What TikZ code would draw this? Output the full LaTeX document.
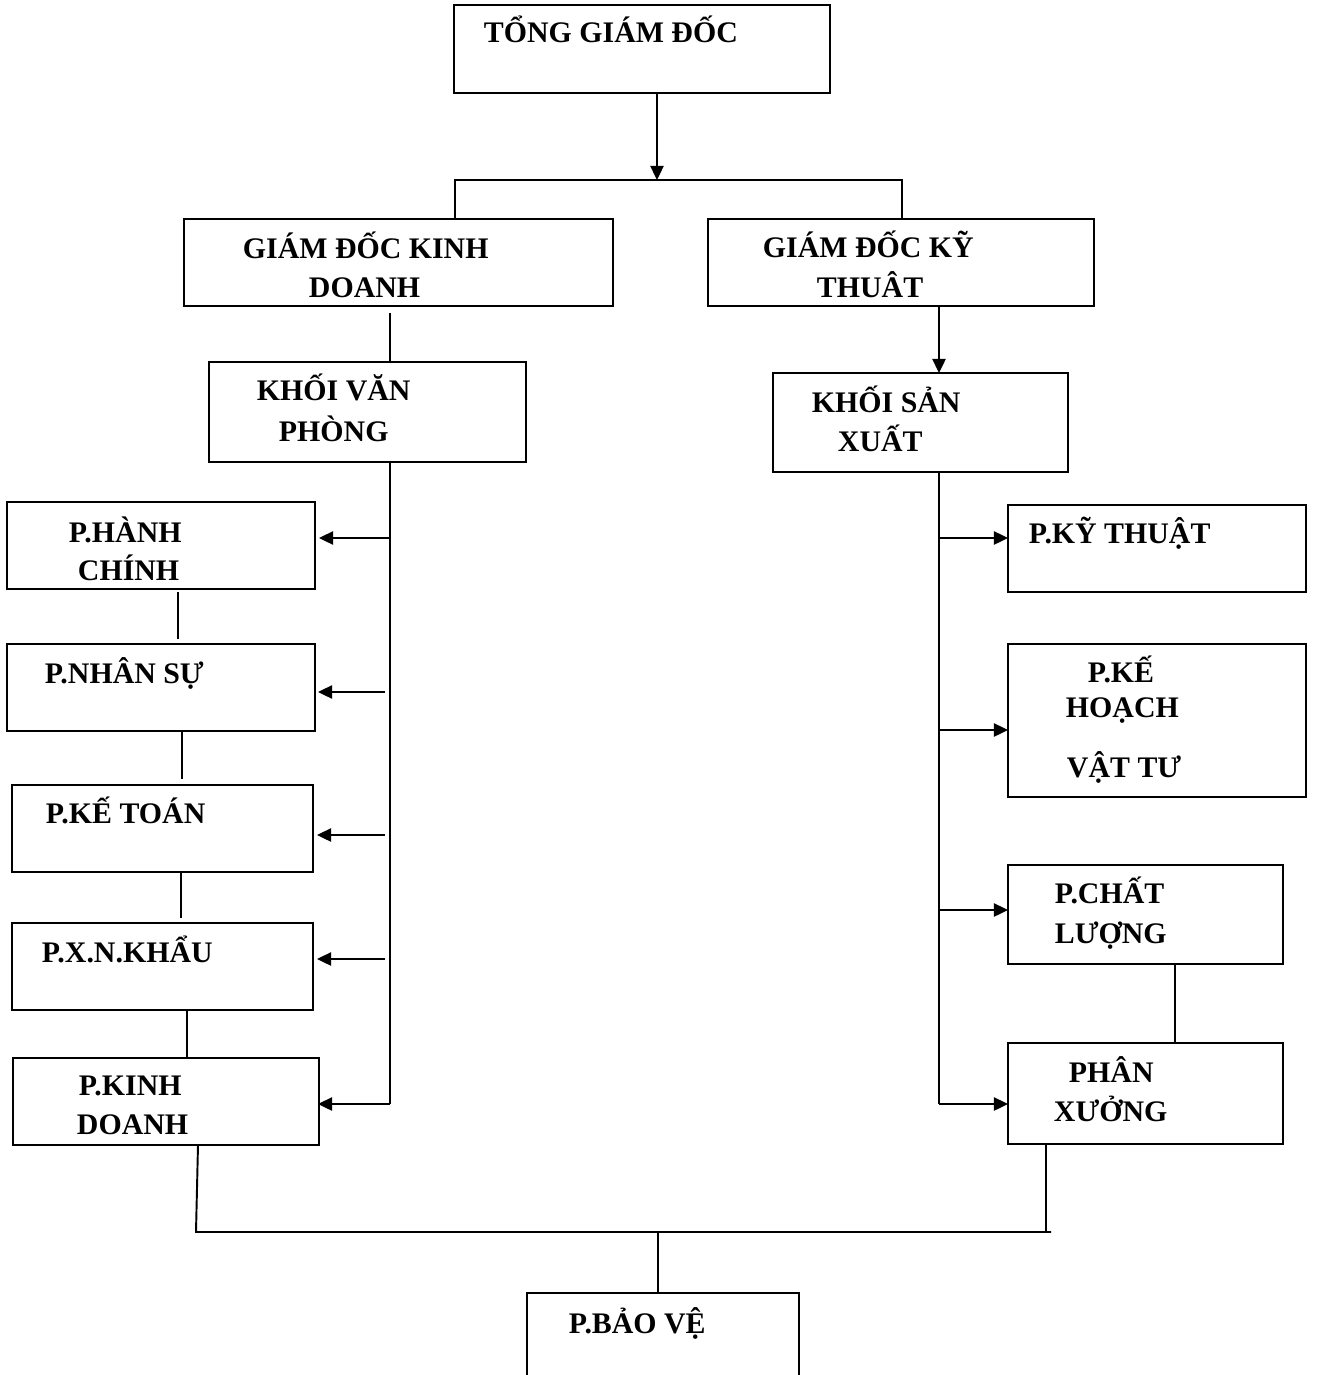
\documentclass[tikz,border=0pt]{standalone}
\usepackage{fontspec}
\setmainfont{Liberation Serif}
\usetikzlibrary{arrows.meta}
\begin{document}
\begin{tikzpicture}[x=0.02cm,y=-0.02cm,line width=1.1pt,
  box/.style 2 args={draw,rectangle,anchor=north west,minimum width=#1*0.02cm,minimum height=#2*0.02cm,inner sep=0pt,outer sep=0pt},
  lbl/.style={anchor=base west,inner sep=0pt,font=\fontsize{17}{20}\selectfont\bfseries},
  arr/.style={-{Triangle[length=8pt,width=7.5pt]}}]
\useasboundingbox (0,0) rectangle (1316,1375);
\clip (0,0) rectangle (1316,1375);
% boxes
\node[box={376}{88}] (tgd) at (454,5) {};
\node[box={429}{87}] (gdkd) at (184,219) {};
\node[box={386}{87}] (gdkt) at (708,219) {};
\node[box={317}{100}] (kvp) at (209,362) {};
\node[box={295}{99}] (ksx) at (773,373) {};
\node[box={308}{87}] (phc) at (7,502) {};
\node[box={308}{87}] (pns) at (7,644) {};
\node[box={301}{87}] (pkt) at (12,785) {};
\node[box={301}{87}] (pxnk) at (12,923) {};
\node[box={306}{87}] (pkd) at (13,1058) {};
\node[box={298}{87}] (pkyt) at (1008,505) {};
\node[box={298}{153}] (pkh) at (1008,644) {};
\node[box={275}{99}] (pcl) at (1008,865) {};
\node[box={275}{101}] (px) at (1008,1043) {};
\node[box={272}{130}] (pbv) at (527,1293) {};
% labels
\node[lbl] (t-tgd) at (483,43) {TỔNG GIÁM ĐỐC};
\node[lbl] (t-gdkd1) at (242,258) {GIÁM ĐỐC KINH};
\node[lbl] (t-gdkd2) at (308,297) {DOANH};
\node[lbl] (t-gdkt1) at (762,257) {GIÁM ĐỐC KỸ};
\node[lbl] (t-gdkt2) at (816,297) {THUÂT};
\node[lbl] (t-kvp1) at (256,400) {KHỐI VĂN};
\node[lbl] (t-kvp2) at (278,441) {PHÒNG};
\node[lbl] (t-ksx1) at (811,412) {KHỐI SẢN};
\node[lbl] (t-ksx2) at (837,451) {XUẤT};
\node[lbl] (t-phc1) at (68,542) {P.HÀNH};
\node[lbl] (t-phc2) at (77,580) {CHÍNH};
\node[lbl] (t-pns) at (44,683) {P.NHÂN SỰ};
\node[lbl] (t-pkt) at (45,823) {P.KẾ TOÁN};
\node[lbl] (t-pxnk) at (41,962) {P.X.N.KHẨU};
\node[lbl] (t-pkd1) at (78,1095) {P.KINH};
\node[lbl] (t-pkd2) at (76,1134) {DOANH};
\node[lbl] (t-pkyt) at (1028,543) {P.KỸ THUẬT};
\node[lbl] (t-pkh1) at (1087,682) {P.KẾ};
\node[lbl] (t-pkh2) at (1065,717) {HOẠCH};
\node[lbl] (t-pkh3) at (1066,777) {VẬT TƯ};
\node[lbl] (t-pcl1) at (1054,903) {P.CHẤT};
\node[lbl] (t-pcl2) at (1054,943) {LƯỢNG};
\node[lbl] (t-px1) at (1068,1082) {PHÂN};
\node[lbl] (t-px2) at (1053,1121) {XƯỞNG};
\node[lbl] (t-pbv) at (568,1333) {P.BẢO VỆ};
% helper coordinates
\coordinate (bus1) at (0,180);
\coordinate (bus2) at (0,1232);
\coordinate (xa) at (657,0);
\coordinate (xl) at (390,0);
\coordinate (xr) at (939,0);
\coordinate (vlend) at (390,1104);
\coordinate (vrend) at (939,1104);
\coordinate (gkdgap) at (390,313);
\coordinate (pkdbend) at (196,1232);
\coordinate (bus2end) at (1051,1232);
% top
\draw[arr] (tgd.south -| xa) -- (bus1 -| xa);
\draw (gdkd.north -| 455,0) -- (455,180) -- (902,180) -- (gdkt.north -| 902,0);
% left branch
\draw (gkdgap) -- (kvp.north -| xl);
\draw (kvp.south -| xl) -- (vlend);
\draw[arr] (390,538) -- ([xshift=4*0.02cm]phc.east |- 0,538);
\draw[arr] (385,692) -- ([xshift=3*0.02cm]pns.east |- 0,692);
\draw[arr] (385,835) -- ([xshift=4*0.02cm]pkt.east |- 0,835);
\draw[arr] (385,959) -- ([xshift=4*0.02cm]pxnk.east |- 0,959);
\draw[arr] (vlend) -- ([xshift=-1*0.02cm]pkd.east |- vlend);
\draw ([yshift=-3*0.02cm]phc.south -| 178,0) -- ([yshift=5*0.02cm]pns.north -| 178,0);
\draw (pns.south -| 182,0) -- ([yshift=6*0.02cm]pkt.north -| 182,0);
\draw (pkt.south -| 181,0) -- ([yshift=5*0.02cm]pxnk.north -| 181,0);
\draw (pxnk.south -| 187,0) -- (pkd.north -| 187,0);
% right branch
\draw[arr] (gdkt.south -| xr) -- (ksx.north -| xr);
\draw (ksx.south -| xr) -- (vrend);
\draw[arr] (939,538) -- (pkyt.west |- 0,538);
\draw[arr] (939,730) -- (pkh.west |- 0,730);
\draw[arr] (939,910) -- (pcl.west |- 0,910);
\draw[arr] (vrend) -- (px.west |- vrend);
\draw (pcl.south -| 1175,0) -- (px.north -| 1175,0);
% bottom
\draw (pkd.south -| 198,0) -- (pkdbend) -- (bus2end);
\draw (px.south -| 1046,0) -- (1046,1232);
\draw (bus2 -| 658,0) -- (pbv.north -| 658,0);
\end{tikzpicture}
\end{document}
